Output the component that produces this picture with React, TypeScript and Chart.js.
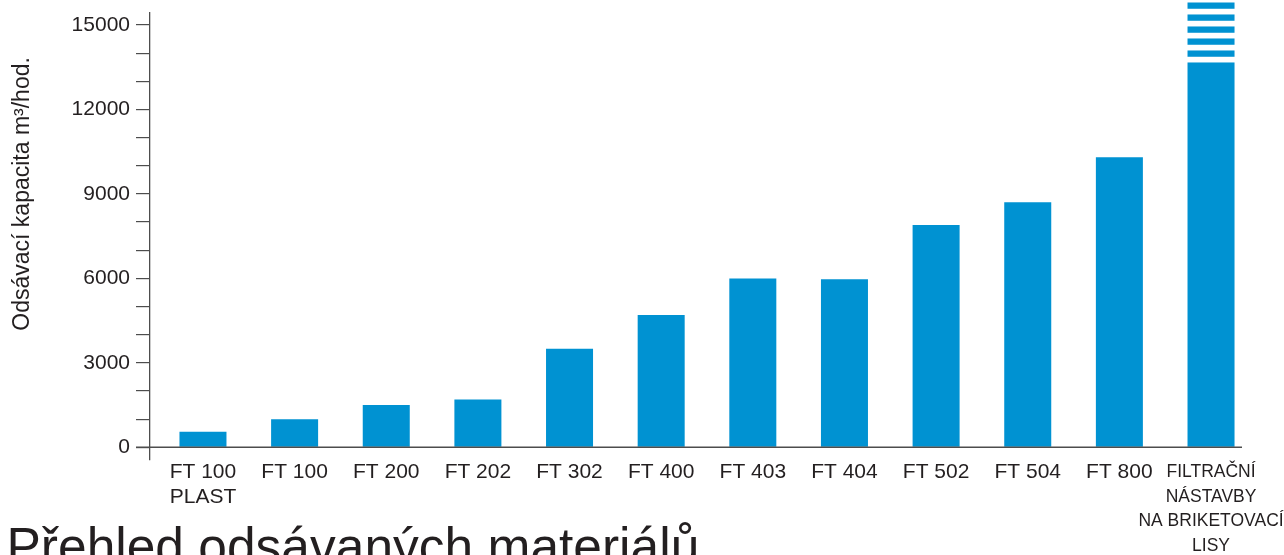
import { useEffect, useRef } from "react";
import { Chart, registerables } from "chart.js";

Chart.register(...registerables);

const categories: (string | string[])[] = [
  ["FT 100", "PLAST"],
  "FT 100",
  "FT 200",
  "FT 202",
  "FT 302",
  "FT 400",
  "FT 403",
  "FT 404",
  "FT 502",
  "FT 504",
  "FT 800",
  ["FILTRAČNÍ", "NÁSTAVBY", "NA BRIKETOVACÍ", "LISY"],
];
const capacity = [550, 1000, 1500, 1700, 3500, 4700, 6000, 5970, 7900, 8700, 10300, 15800];
const yTickValues = [0, 1000, 2000, 3000, 4000, 5000, 6000, 7000, 8000, 9000, 10000, 11000, 12000, 13000, 14000, 15000];
const yLabelValues = [0, 3000, 6000, 9000, 12000, 15000];
const brokenBarIndex = 11;
const breakStripeCount = 5;
const yAxisTitle = "Odsávací kapacita m³/hod.";
const yAxisTitleCenterValue = 9000;
const chartTitle = "Přehled odsávaných materiálů";

const BAR_COLOR = "#0092D2";
const TEXT_COLOR = "#231f20";
const AXIS_COLOR = "#4d4d4d";
const FONT = '"Liberation Sans", Arial, sans-serif';
const TICK_LEN = 14;

const decorPlugin = {
  id: "decor",
  afterDatasetsDraw(chart: any) {
    const { ctx, chartArea } = chart;
    const y = chart.scales.y;
    const meta = chart.getDatasetMeta(0);
    const bar = meta.data[brokenBarIndex];
    if (bar) {
      const props = bar.getProps(["x", "y", "width"], true);
      ctx.save();
      ctx.fillStyle = "#ffffff";
      const period = 12;
      const whiteH = 5.7;
      for (let k = 0; k < breakStripeCount; k++) {
        const top = props.y + 6.3 + k * period;
        ctx.fillRect(props.x - props.width / 2 - 1, top, props.width + 2, whiteH);
      }
      ctx.restore();
    }
    const y0 = y.getPixelForValue(0);
    ctx.save();
    ctx.strokeStyle = AXIS_COLOR;
    ctx.lineWidth = 1.5;
    ctx.beginPath();
    ctx.moveTo(y.right - TICK_LEN, y0);
    ctx.lineTo(chartArea.right, y0);
    ctx.stroke();
    ctx.restore();
  },
  afterDraw(chart: any) {
    const { ctx } = chart;
    const y = chart.scales.y;
    ctx.save();
    ctx.fillStyle = TEXT_COLOR;
    ctx.translate(23, y.getPixelForValue(yAxisTitleCenterValue));
    ctx.rotate(-Math.PI / 2);
    ctx.font = `23px ${FONT}`;
    ctx.textAlign = "center";
    ctx.textBaseline = "middle";
    ctx.fillText(yAxisTitle, 0, 0);
    ctx.restore();
    ctx.save();
    ctx.fillStyle = TEXT_COLOR;
    ctx.font = `51.5px ${FONT}`;
    ctx.textAlign = "left";
    ctx.textBaseline = "alphabetic";
    ctx.fillText(chartTitle, 6.5, chart.height + 9);
    ctx.restore();
  },
};

export default function App() {
  const ref = useRef<HTMLCanvasElement | null>(null);
  useEffect(() => {
    document.body.style.margin = "0";
    const canvas = ref.current;
    if (!canvas) return;
    const chart = new Chart(canvas, {
      type: "bar",
      data: {
        datasets: [
          {
            data: capacity.map((v, i) => ({ x: i, y: v })) as any,
            backgroundColor: BAR_COLOR,
            borderWidth: 0,
            barPercentage: 0.513,
            categoryPercentage: 1,
            clip: false as any,
          },
        ],
      },
      options: {
        responsive: false,
        animation: false,
        events: [],
        layout: { padding: { top: 13, left: 0, right: 42, bottom: 0 } },
        plugins: { legend: { display: false }, tooltip: { enabled: false }, title: { display: false } },
        scales: {
          x: {
            type: "linear",
            offset: false,
            min: -0.578,
            max: 11.338,
            afterBuildTicks: (scale: any) => {
              scale.ticks = categories.map((_, i) => ({ value: i }));
            },
            afterFit: (scale: any) => {
              scale.height = 95;
            },
            grid: { display: false, offset: false },
            border: { display: false },
            ticks: {
              autoSkip: false,
              maxRotation: 0,
              padding: -8,
              color: TEXT_COLOR,
              callback: (_v: any, i: number) => categories[i],
              font: (ctx: any) =>
                ctx.index === brokenBarIndex
                  ? { family: FONT, size: 17.5, lineHeight: "24.5px" }
                  : { family: FONT, size: 21, lineHeight: "25px" },
            },
          },
          y: {
            min: -451,
            max: 15426,
            afterBuildTicks: (scale: any) => {
              scale.ticks = yTickValues.map((v) => ({ value: v }));
            },
            afterFit: (scale: any) => {
              scale.width = 150;
              scale.paddingTop = 0;
              scale.paddingBottom = 0;
            },
            grid: {
              display: true,
              drawOnChartArea: false,
              drawTicks: true,
              tickLength: TICK_LEN,
              color: AXIS_COLOR,
              lineWidth: 1.2,
            },
            border: { display: true, color: AXIS_COLOR, width: 1.3 },
            ticks: {
              autoSkip: false,
              padding: 6,
              color: TEXT_COLOR,
              font: { family: FONT, size: 21, lineHeight: 1 },
              callback: (v: any) => (yLabelValues.includes(Number(v)) ? String(v) : ""),
            },
          },
        },
      },
      plugins: [decorPlugin],
    });
    return () => chart.destroy();
  }, []);
  return <canvas ref={ref} width={1284} height={555} style={{ display: "block" }} />;
}
